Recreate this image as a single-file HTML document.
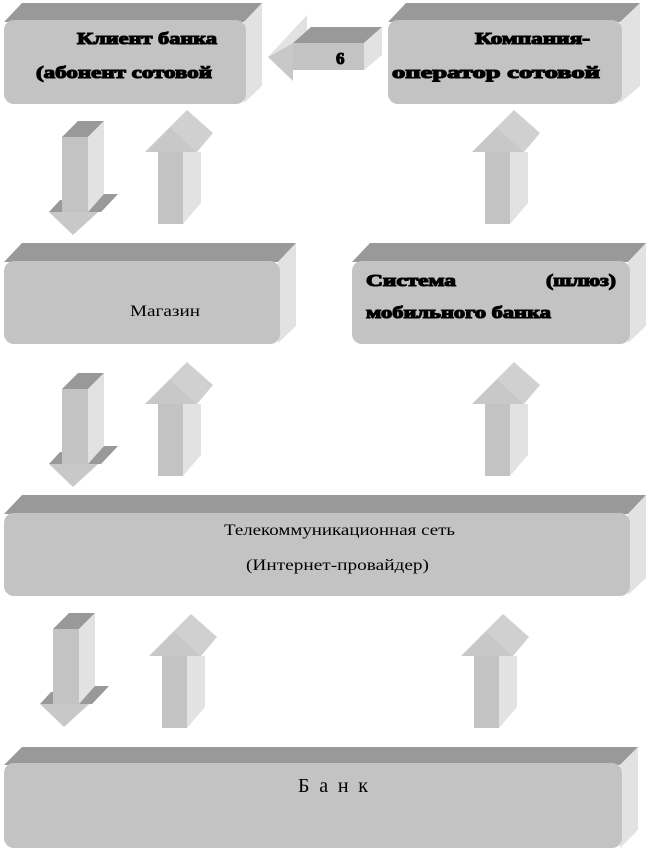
<!DOCTYPE html>
<html><head><meta charset="utf-8"><style>
html,body{margin:0;padding:0;background:#fff;}
svg{display:block}
.b{font-family:"Liberation Serif",serif;font-weight:bold;font-size:17px;fill:#000;stroke:#000;stroke-width:1.1px;}
.r{font-family:"Liberation Serif",serif;font-size:16px;fill:#000;}
</style></head><body>
<svg width="647" height="851" viewBox="0 0 647 851" xmlns="http://www.w3.org/2000/svg">
<!-- Box1 -->
<polygon points="4,22 22,3 262,3 244,22" fill="#999"/>
<polygon points="244,22 262,3 262,86 244,103" fill="#e2e2e2"/>
<rect x="4" y="20" width="242" height="84" rx="10" fill="#c3c3c3"/>
<!-- Box2 -->
<polygon points="388,22 406,3 640,3 622,22" fill="#999"/>
<polygon points="620,22 640,3 640,86 620,103" fill="#e2e2e2"/>
<rect x="388" y="20" width="234" height="84" rx="10" fill="#c3c3c3"/>
<!-- Box3 -->
<polygon points="4,262 22,243 296,243 278,262" fill="#999"/>
<polygon points="278,262 296,243 296,326 278,343" fill="#e2e2e2"/>
<rect x="4" y="261" width="276" height="83" rx="10" fill="#c3c3c3"/>
<!-- Box4 -->
<polygon points="352,262 370,243 646,243 628,262" fill="#999"/>
<polygon points="628,262 646,243 646,326 628,343" fill="#e2e2e2"/>
<rect x="352" y="261" width="278" height="83" rx="10" fill="#c3c3c3"/>
<!-- Box5 -->
<polygon points="4,514 22,495 646,495 628,514" fill="#999"/>
<polygon points="628,514 646,495 646,578 628,595" fill="#e2e2e2"/>
<rect x="4" y="513" width="626" height="83" rx="10" fill="#c3c3c3"/>
<!-- Box6 -->
<polygon points="4,765 22,747 638,747 620,765" fill="#999"/>
<polygon points="620,765 638,747 638,830 620,848" fill="#e2e2e2"/>
<rect x="4" y="763" width="618" height="85" rx="10" fill="#c3c3c3"/>

<!-- Horizontal arrow 6 -->
<polygon points="268,57 307,15 307,43 293,43" fill="#e2e2e2"/>
<polygon points="293,43 311,27 382,27 364,43" fill="#999"/>
<polygon points="364,43 382,27 382,55 364,70" fill="#e2e2e2"/>
<rect x="293" y="43" width="71" height="27" fill="#c3c3c3"/>
<polygon points="268,57 293,43 293,81" fill="#c8c8c8"/>
<text x="336" y="64" class="b">6</text>

<!-- Down arrows -->
<g id="dn">
<polygon points="62,137 78,121 104,121 88,137" fill="#999"/>
<rect x="62" y="137" width="26" height="75" fill="#c3c3c3"/>
<polygon points="88,137 104,121 104,195 88,212" fill="#e2e2e2"/>
<polygon points="49,212 101,212 118,194 73,235" fill="#c8c8c8"/>
<polygon points="49,212 60,200 62,200 62,212" fill="#999"/>
<polygon points="88,212 104,194 118,194 101,212" fill="#999"/>
</g>
<use href="#dn" x="0" y="252"/>
<use href="#dn" x="-9" y="492"/>

<!-- Up arrows -->
<g id="up">
<polygon points="170,127 187,110 213,133 197,152" fill="#d0d0d0"/>
<polygon points="145,152 170,127 197,152" fill="#c8c8c8"/>
<rect x="158" y="152" width="25" height="72" fill="#c3c3c3"/>
<polygon points="183,152 201,152 201,203 183,224" fill="#e2e2e2"/>
</g>
<use href="#up" x="0" y="252"/>
<use href="#up" x="4" y="504"/>
<use href="#up" x="327" y="0"/>
<use href="#up" x="327" y="252"/>
<use href="#up" x="316" y="504"/>

<!-- Texts -->
<text x="77" y="44" class="b" textLength="140" lengthAdjust="spacingAndGlyphs">Клиент банка</text>
<text x="36" y="78" class="b" textLength="176" lengthAdjust="spacingAndGlyphs">(абонент сотовой</text>
<text x="475" y="44" class="b" textLength="115" lengthAdjust="spacingAndGlyphs">Компания-</text>
<text x="392" y="78" class="b" textLength="208" lengthAdjust="spacingAndGlyphs">оператор сотовой</text>
<text x="130" y="316" class="r" textLength="70" lengthAdjust="spacingAndGlyphs">Магазин</text>
<text x="366" y="286" class="b" textLength="90" lengthAdjust="spacingAndGlyphs">Система</text>
<text x="546" y="286" class="b" textLength="70" lengthAdjust="spacingAndGlyphs">(шлюз)</text>
<text x="366" y="318" class="b" textLength="185" lengthAdjust="spacingAndGlyphs">мобильного банка</text>
<text x="224" y="535" class="r" textLength="231" lengthAdjust="spacingAndGlyphs">Телекоммуникационная сеть</text>
<text x="246" y="570" class="r" textLength="183" lengthAdjust="spacingAndGlyphs">(Интернет-провайдер)</text>
<text x="298" y="792" style="font-family:'Liberation Serif',serif;font-size:20px;" textLength="70" lengthAdjust="spacing">Банк</text>
</svg>
</body></html>
